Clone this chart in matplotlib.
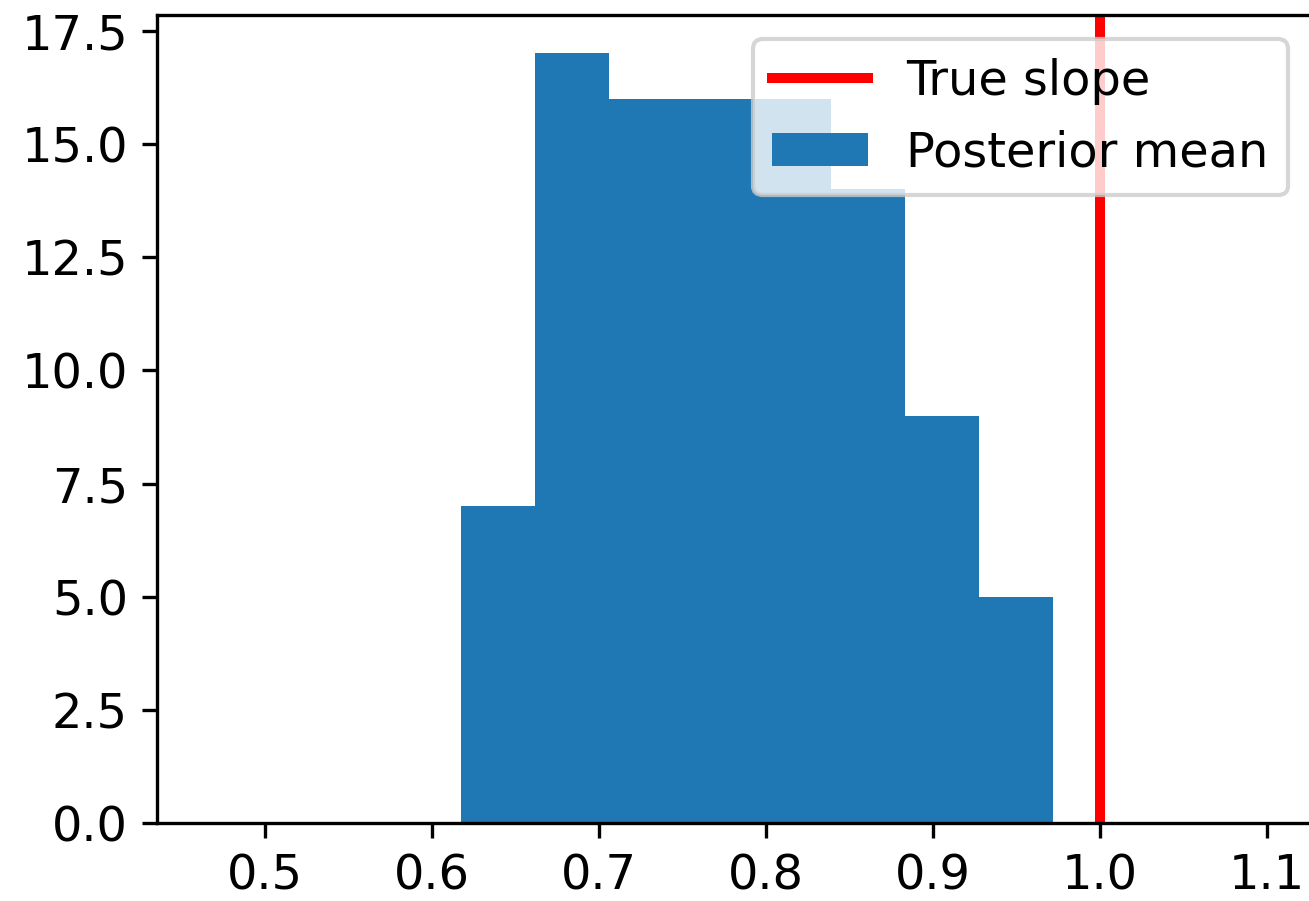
import numpy as np
import matplotlib
matplotlib.use("Agg")
import matplotlib.pyplot as plt

# histogram of posterior means
bin_edges = [0.6174, 0.6617, 0.7060, 0.7503, 0.7946, 0.8390, 0.8833, 0.9276, 0.9719]
counts = [7, 17, 16, 16, 16, 14, 9, 5]
true_slope = 1.0

plt.rcParams["font.size"] = 11.5

fig = plt.figure(figsize=(1310 / 300, 901 / 300), dpi=300)
ax = fig.add_axes([157 / 1310, 78 / 901, 1155 / 1310, 808 / 901])

ax.axvline(true_slope, color="red", linewidth=2.4, label="True slope")
ax.hist(bin_edges[:-1], bins=bin_edges, weights=counts, color="#1f77b4",
        label="Posterior mean")

ax.set_xlim(0.4353, 1.127)
ax.set_ylim(0, 17.85)
ax.set_xticks([0.5, 0.6, 0.7, 0.8, 0.9, 1.0, 1.1])
ax.set_yticks(np.arange(0, 17.6, 2.5))
ax.legend(loc="upper right")

fig.savefig("out.png", dpi=300)
